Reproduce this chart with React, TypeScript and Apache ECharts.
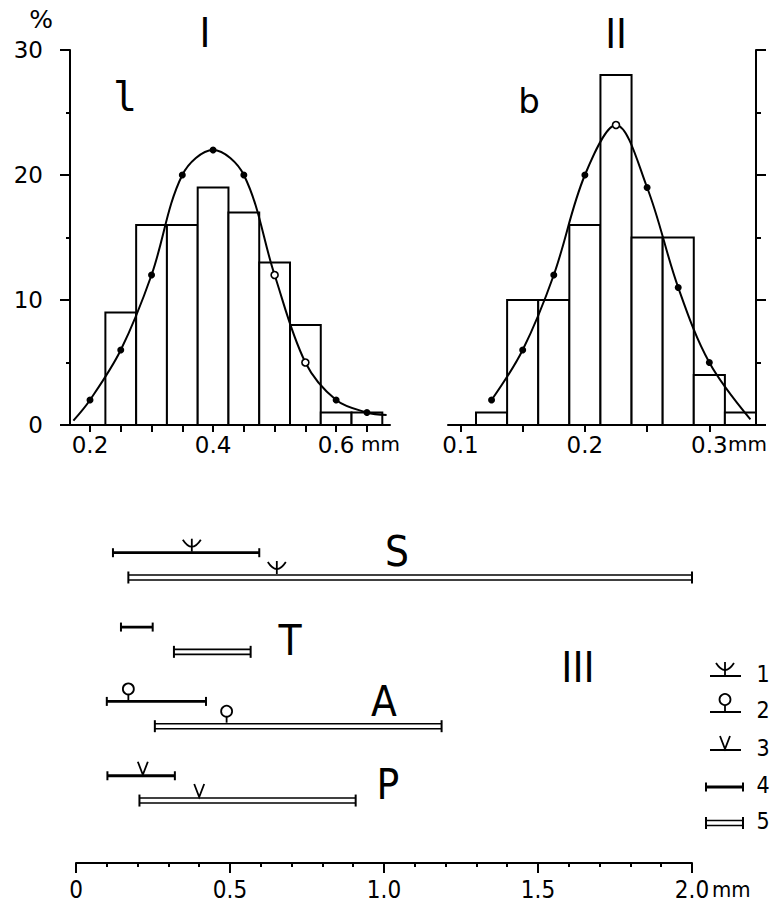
import React, { useEffect, useRef } from "react";
import * as echarts from "echarts";

// ---------- Panel I : length l ----------
const lBinEdges = [0.225, 0.275, 0.325, 0.375, 0.425, 0.475, 0.525, 0.575, 0.625, 0.675];
const lCounts = [9, 16, 16, 19, 17, 13, 8, 1, 1];
const lCurveX = [0.173, 0.2, 0.25, 0.3, 0.35, 0.4, 0.45, 0.5, 0.55, 0.6, 0.65, 0.682];
const lCurveY = [0.35, 2, 6, 12, 20, 22, 20, 12, 5, 2, 1, 0.8];
const lDotKind = ["none", "filled", "filled", "filled", "filled", "filled", "filled", "open", "open", "filled", "filled", "none"];
const lTicks = [0.2, 0.25, 0.3, 0.35, 0.4, 0.45, 0.5, 0.55, 0.6, 0.65];
const lTickLabels = [0.2, 0.4, 0.6];

// ---------- Panel II : breadth b ----------
const bBinEdges = [0.1125, 0.1375, 0.1625, 0.1875, 0.2125, 0.2375, 0.2625, 0.2875, 0.3125, 0.3375];
const bCounts = [1, 10, 10, 16, 28, 15, 15, 4, 1];
const bCurveX = [0.125, 0.15, 0.175, 0.2, 0.225, 0.25, 0.275, 0.3, 0.333];
const bCurveY = [2, 6, 12, 20, 24, 19, 11, 5, 0.45];
const bDotKind = ["filled", "filled", "filled", "filled", "open", "filled", "filled", "filled", "none"];
const bTicks = [0.1, 0.15, 0.2, 0.25, 0.3];
const bTickLabels = [0.1, 0.2, 0.3];

// ---------- Panel III : ranges ----------
const taxa = ["S", "T", "A", "P"];
const singleRanges = [[0.12, 0.595], [0.146, 0.249], [0.1, 0.422], [0.102, 0.321]];
const doubleRanges = [[0.17, 2.0], [0.318, 0.567], [0.256, 1.187], [0.206, 0.908]];
const singleMarkerAt = [0.376, 0, 0.17, 0.217];
const doubleMarkerAt = [0.652, 0, 0.489, 0.4];
const markerKind = [1, 0, 2, 3];
const legendNumbers = ["1", "2", "3", "4", "5"];

const FONT = "'DejaVu Sans', sans-serif";
const FONT_C = "'DejaVu Sans Condensed', 'Liberation Sans Narrow', 'DejaVu Sans', sans-serif";
const FONT_M = "'DejaVu Sans Mono', monospace";
const BLACK = "#000";

function markerEls(kind: number, x: number, yb: number): any[] {
  const st = { stroke: BLACK, lineWidth: 1.8, fill: null as any };
  if (kind === 1)
    return [
      { type: "bezierCurve", shape: { x1: x - 9, y1: yb - 12, x2: x + 9, y2: yb - 12, cpx1: x, cpy1: yb + 2 }, style: st },
      { type: "line", shape: { x1: x, y1: yb - 13, x2: x, y2: yb }, style: st },
    ];
  if (kind === 2)
    return [
      { type: "line", shape: { x1: x, y1: yb - 6, x2: x, y2: yb }, style: st },
      { type: "circle", shape: { cx: x, cy: yb - 11.5, r: 5.5 }, style: { ...st, fill: "#fff" } },
    ];
  if (kind === 3)
    return [{ type: "polyline", shape: { points: [[x - 5, yb - 13], [x, yb], [x + 5, yb - 13]] }, style: st }];
  return [];
}

function rangeEls(kind: number, x0: number, x1: number, y: number): any[] {
  const els: any[] = [];
  if (kind === 0) {
    els.push({ type: "line", shape: { x1: x0, y1: y, x2: x1, y2: y }, style: { stroke: BLACK, lineWidth: 2.8 } });
    els.push({ type: "line", shape: { x1: x0, y1: y - 4.5, x2: x0, y2: y + 4.5 }, style: { stroke: BLACK, lineWidth: 2 } });
    els.push({ type: "line", shape: { x1: x1, y1: y - 4.5, x2: x1, y2: y + 4.5 }, style: { stroke: BLACK, lineWidth: 2 } });
  } else {
    els.push({ type: "line", shape: { x1: x0, y1: y - 2.5, x2: x1, y2: y - 2.5 }, style: { stroke: BLACK, lineWidth: 1.6 } });
    els.push({ type: "line", shape: { x1: x0, y1: y + 2.5, x2: x1, y2: y + 2.5 }, style: { stroke: BLACK, lineWidth: 1.6 } });
    els.push({ type: "line", shape: { x1: x0, y1: y - 6, x2: x0, y2: y + 6 }, style: { stroke: BLACK, lineWidth: 2 } });
    els.push({ type: "line", shape: { x1: x1, y1: y - 6, x2: x1, y2: y + 6 }, style: { stroke: BLACK, lineWidth: 2 } });
  }
  return els;
}

function histSeries(edges: number[], counts: number[], idx: number) {
  return {
    type: "custom",
    xAxisIndex: idx,
    yAxisIndex: idx,
    z: 2,
    clip: false,
    data: counts.map((c, i) => [edges[i], edges[i + 1], c]),
    encode: { x: [0, 1], y: 2 },
    renderItem: (_p: any, api: any) => {
      const a = api.coord([api.value(0), api.value(2)]);
      const b = api.coord([api.value(1), 0]);
      return {
        type: "rect",
        shape: { x: a[0], y: a[1], width: b[0] - a[0], height: b[1] - a[1] },
        style: { fill: "#fff", stroke: BLACK, lineWidth: 2 },
      };
    },
  };
}

function curveSeries(xs: number[], ys: number[], kinds: string[], idx: number) {
  return {
    type: "line",
    xAxisIndex: idx,
    yAxisIndex: idx,
    z: 3,
    smooth: 0.35,
    symbolSize: 7,
    lineStyle: { color: BLACK, width: 2 },
    itemStyle: { color: BLACK },
    data: xs.map((x, i) => {
      const k = kinds[i];
      if (k === "none") return { value: [x, ys[i]], symbol: "none" };
      if (k === "open")
        return { value: [x, ys[i]], symbol: "circle", itemStyle: { color: "#fff", borderColor: BLACK, borderWidth: 1.6 } };
      return { value: [x, ys[i]], symbol: "circle" };
    }),
  };
}

const rangeData: number[][] = [];
taxa.forEach((_t, i) => {
  rangeData.push([singleRanges[i][0], singleRanges[i][1], i * 3, 0, singleMarkerAt[i], markerKind[i]]);
  rangeData.push([doubleRanges[i][0], doubleRanges[i][1], i * 3 + 1, 1, doubleMarkerAt[i], markerKind[i]]);
});

function txt(t: string, x: number, y: number, size: number, family = FONT_C, align = "center") {
  return {
    type: "text",
    x,
    y,
    z: 10,
    style: {
      text: t,
      fontSize: size,
      fontFamily: family,
      fill: BLACK,
      align,
      verticalAlign: "middle",
      textAlign: align,
      textVerticalAlign: "middle",
    },
  };
}

const legendY = [676, 712, 750, 787, 823];
const legendEls: any[] = [];
legendY.forEach((y, i) => {
  if (i < 3) {
    legendEls.push({ type: "line", shape: { x1: 710, y1: y, x2: 741, y2: y }, style: { stroke: BLACK, lineWidth: 2 } });
    legendEls.push(...markerEls(i + 1, 725, y - 1));
  } else {
    legendEls.push(...rangeEls(i - 3, 706, 743, y));
  }
  legendEls.push(txt(legendNumbers[i], 763, y - 2, 23));
});

const axisCommon = {
  axisLine: { show: true, onZero: false, lineStyle: { color: BLACK, width: 2 } },
  splitLine: { show: false },
};

const option: any = {
  animation: false,
  backgroundColor: "#fff",
  grid: [
    { left: 70, top: 50, width: 320, height: 375 },
    { left: 448, top: 50, width: 308, height: 375 },
    { left: 76, top: 520, width: 616, height: 343 },
  ],
  xAxis: [
    {
      gridIndex: 0,
      type: "value",
      min: 0.1675,
      max: 0.6875,
      ...axisCommon,
      axisTick: { show: true, customValues: lTicks, length: 7, lineStyle: { color: BLACK, width: 2 } },
      axisLabel: {
        customValues: lTickLabels,
        formatter: (v: number) => v.toFixed(1),
        color: BLACK,
        fontSize: 23,
        fontFamily: FONT,
        margin: 8,
      },
    },
    {
      gridIndex: 1,
      type: "value",
      min: 0.09,
      max: 0.3375,
      ...axisCommon,
      axisTick: { show: true, customValues: bTicks, length: 7, lineStyle: { color: BLACK, width: 2 } },
      axisLabel: {
        customValues: bTickLabels,
        formatter: (v: number) => v.toFixed(1),
        color: BLACK,
        fontSize: 23,
        fontFamily: FONT,
        margin: 8,
      },
    },
    {
      gridIndex: 2,
      type: "value",
      position: "bottom",
      min: 0,
      max: 2,
      interval: 0.5,
      ...axisCommon,
      axisTick: { show: true, length: 10, lineStyle: { color: BLACK, width: 2 } },
      minorTick: { show: true, splitNumber: 5, length: 4, lineStyle: { color: BLACK, width: 2 } },
      minorSplitLine: { show: false },
      axisLabel: {
        formatter: (v: number) => (v === 0 ? "0" : v.toFixed(1)),
        color: BLACK,
        fontSize: 24,
        fontFamily: FONT_C,
        margin: 15,
      },
    },
  ],
  yAxis: [
    {
      gridIndex: 0,
      type: "value",
      min: 0,
      max: 30,
      interval: 10,
      ...axisCommon,
      axisTick: { show: true, length: 10, lineStyle: { color: BLACK, width: 2 } },
      minorTick: { show: true, splitNumber: 2, length: 4, lineStyle: { color: BLACK, width: 2 } },
      minorSplitLine: { show: false },
      axisLabel: { color: BLACK, fontSize: 23, fontFamily: FONT, margin: 27 },
    },
    {
      gridIndex: 1,
      type: "value",
      position: "right",
      min: 0,
      max: 30,
      interval: 10,
      ...axisCommon,
      axisTick: { show: true, length: 10, lineStyle: { color: BLACK, width: 2 } },
      minorTick: { show: true, splitNumber: 2, length: 5, lineStyle: { color: BLACK, width: 2 } },
      minorSplitLine: { show: false },
      axisLabel: { show: false },
    },
    {
      gridIndex: 2,
      type: "value",
      inverse: true,
      min: -1.32,
      max: 12.52,
      show: false,
    },
  ],
  series: [
    histSeries(lBinEdges, lCounts, 0),
    curveSeries(lCurveX, lCurveY, lDotKind, 0),
    histSeries(bBinEdges, bCounts, 1),
    curveSeries(bCurveX, bCurveY, bDotKind, 1),
    {
      type: "custom",
      xAxisIndex: 2,
      yAxisIndex: 2,
      clip: false,
      data: rangeData,
      encode: { x: [0, 1], y: 2 },
      renderItem: (_p: any, api: any) => {
        const s = api.value(0);
        const e = api.value(1);
        const slot = api.value(2);
        const kind = api.value(3);
        const mx = api.value(4);
        const mk = api.value(5);
        const a = api.coord([s, slot]);
        const b = api.coord([e, slot]);
        const y = a[1];
        const children = rangeEls(kind, a[0], b[0], y);
        if (mk > 0) {
          const m = api.coord([mx, slot]);
          children.push(...markerEls(mk, m[0], kind === 0 ? y - 1 : y - 3.5));
        }
        return { type: "group", children };
      },
    },
  ],
  graphic: {
    elements: [
      txt("%", 41, 19, 25, FONT),
      txt("I", 205, 33, 41, FONT_C),
      txt("II", 616, 34, 41, FONT_C),
      txt("l", 125, 97, 40, FONT_M),
      txt("b", 529, 101, 34, FONT),
      txt(taxa[0], 397, 551, 42),
      txt(taxa[1], 290, 640, 42),
      txt(taxa[2], 384, 701, 42),
      txt(taxa[3], 388, 784, 42),
      txt("III", 578, 667, 42),
      txt("mm", 361, 444, 20, FONT, "left"),
      txt("mm", 728, 444, 20, FONT, "left"),
      txt("mm", 712, 889, 22, FONT_C, "left"),
      ...legendEls,
    ],
  },
};

export default function App() {
  const ref = useRef<HTMLDivElement>(null);
  useEffect(() => {
    const chart = echarts.init(ref.current!, null, { renderer: "svg" });
    chart.setOption(option);
    return () => chart.dispose();
  }, []);
  return (
    <div
      ref={ref}
      style={{ position: "fixed", left: 0, top: 0, width: 773, height: 906, background: "#fff" }}
    />
  );
}
